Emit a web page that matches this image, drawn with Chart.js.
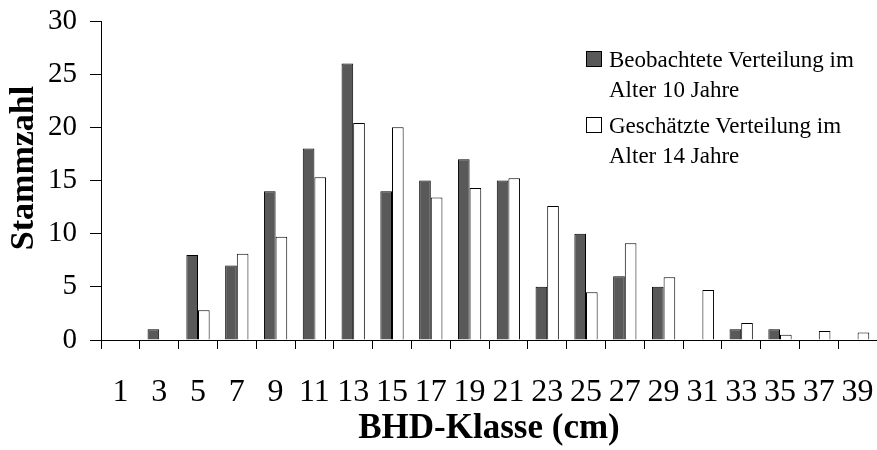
<!DOCTYPE html>
<html>
<head>
<meta charset="utf-8">
<script src="https://cdn.jsdelivr.net/npm/chart.js@4"></script>
<style>
    body { margin: 0; background: #fff; }
    #wrap { position: relative; width: 877px; height: 450px; }
    #legend {
        position: absolute; left: 586px; top: 0;
        font-family: "Liberation Serif", serif; font-size: 23px; line-height: 30px; color: #000;
    }
    .item { position: absolute; left: 0; white-space: nowrap; }
    .box { position: absolute; left: 0; top: 6px; width: 14px; height: 14px; border: 1px solid #000; }
    .txt { position: absolute; left: 23px; top: 0; }
</style>
</head>
<body>
<div id="wrap">
    <canvas id="chart" width="877" height="450"></canvas>
    <div id="legend"></div>
</div>
<script>
// BHD classes (cm)
const classes = ['1', '3', '5', '7', '9', '11', '13', '15', '17', '19', '21', '23', '25', '27', '29', '31', '33', '35', '37', '39'];
// observed at age 10
const observed = [0, 1, 8, 7, 14, 18, 26, 14, 15, 17, 15, 5, 10, 6, 5, 0, 1, 1, 0, 0];
// estimated at age 14
const estimated = [0, 0, 2.8, 8.1, 9.7, 15.3, 20.4, 20.0, 13.4, 14.3, 15.2, 12.6, 4.5, 9.1, 5.9, 4.7, 1.6, 0.5, 0.85, 0.7];
const yTicks = [0, 5, 10, 15, 20, 25, 30];

const seriesNames = [
    ['Beobachtete Verteilung im', 'Alter 10 Jahre'],
    ['Geschätzte Verteilung im', 'Alter 14 Jahre']
];
const fills = ['#595959', '#ffffff'];

const serif = 'Liberation Serif';

// Legend (html, so the labels can wrap onto two lines)
const legend = document.getElementById('legend');
const legendTops = [45, 111];
seriesNames.forEach((lines, i) => {
    const item = document.createElement('div');
    item.className = 'item';
    item.style.top = legendTops[i] + 'px';
    item.innerHTML = `
        <div class="box" style="background:${fills[i]}"></div>
        <div class="txt">${lines.join('<br>')}</div>
    `;
    legend.appendChild(item);
});

// y title sits a bit above the middle of the axis in the original
const yTitlePlugin = {
    id: 'yTitle',
    afterDraw(chart) {
        const c = chart.ctx;
        c.save();
        c.translate(24, 168);
        c.rotate(-Math.PI / 2);
        c.font = 'bold 34px "' + serif + '"';
        c.fillStyle = '#000';
        c.textAlign = 'center';
        c.textBaseline = 'middle';
        c.fillText('Stammzahl', 0, 0);
        c.restore();
    }
};

const ctx = document.getElementById('chart').getContext('2d');
new Chart(ctx, {
    type: 'bar',
    data: {
        labels: classes,
        datasets: [
            { label: seriesNames[0].join(' '), data: observed, backgroundColor: fills[0], borderColor: '#000', borderWidth: 1 },
            { label: seriesNames[1].join(' '), data: estimated, backgroundColor: fills[1], borderColor: '#000', borderWidth: 1 }
        ]
    },
    options: {
        responsive: false,
        animation: false,
        layout: { padding: { top: 21, right: 0, left: 0, bottom: 0 } },
        datasets: { bar: { categoryPercentage: 0.6, barPercentage: 1.0 } },
        plugins: {
            legend: { display: false },
            tooltip: { enabled: false }
        },
        scales: {
            x: {
                grid: { display: true, offset: true, drawOnChartArea: false, drawTicks: true, tickLength: 9, color: '#000' },
                border: { display: true, color: '#000', width: 1 },
                ticks: { color: '#000', font: { family: serif, size: 32 }, padding: 24, maxRotation: 0, autoSkip: false },
                title: { display: true, text: 'BHD-Klasse (cm)', color: '#000', font: { family: serif, size: 35, weight: 'bold' }, padding: { top: 0, bottom: 0 } },
                afterFit: scale => {
                    scale.height = 110;
                    scale.paddingLeft = 0;
                    scale.paddingRight = 0;
                }
            },
            y: {
                min: 0,
                max: 30,
                afterBuildTicks: scale => { scale.ticks = yTicks.map(v => ({ value: v })); },
                grid: { display: true, drawOnChartArea: false, drawTicks: true, tickLength: 11, color: '#000' },
                border: { display: true, color: '#000', width: 1 },
                ticks: { color: '#000', font: { family: serif, size: 29 }, padding: 13 },
                title: { display: false },
                afterFit: scale => {
                    scale.width = 101;
                    scale.paddingTop = 0;
                    scale.paddingBottom = 0;
                }
            }
        }
    },
    plugins: [yTitlePlugin]
});
</script>
</body>
</html>
